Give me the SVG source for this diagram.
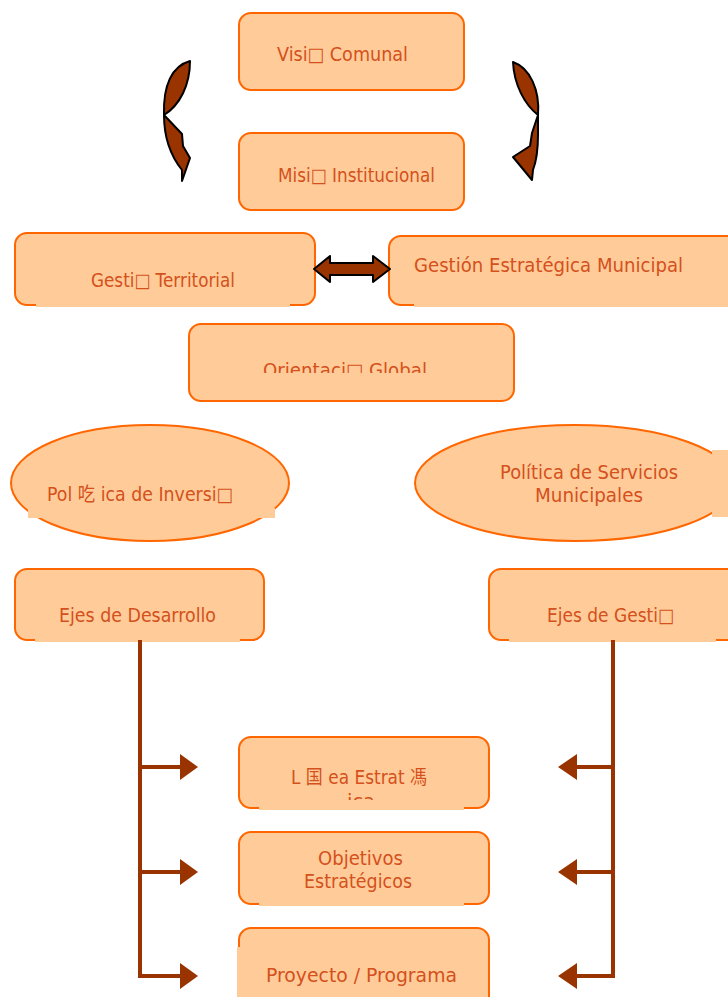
<svg xmlns="http://www.w3.org/2000/svg" width="728" height="997" viewBox="0 0 728 997">
<style>
.box{fill:#FFCC99;stroke:#FF6600;stroke-width:2}
.cov{fill:#FFCC99}
.t{font-family:"DejaVu Sans","Noto Sans CJK SC",sans-serif;font-size:19.5px;fill:#D4501C;text-anchor:middle}
.ln{stroke:#993300;stroke-width:4;fill:none}
.ah{fill:#993300}
.cu{fill:#993300;stroke:#000;stroke-width:2;stroke-linejoin:round}
</style>
<defs>
<clipPath id="cOri"><rect x="189" y="324" width="325" height="49"/></clipPath>
<clipPath id="cLin"><rect x="239" y="737" width="250" height="63"/></clipPath>
</defs>
<rect width="728" height="997" fill="#fff"/>
<g id="vision">
<rect class="box" x="239" y="13" width="225" height="77" rx="12"/>
<text class="t" x="342.5" y="61" textLength="131" lengthAdjust="spacingAndGlyphs">Visi□ Comunal</text>
</g>
<g id="mision">
<rect class="box" x="239" y="133" width="225" height="77" rx="12"/>
<text class="t" x="356.5" y="182" textLength="157" lengthAdjust="spacingAndGlyphs">Misi□ Institucional</text>
</g>
<g id="gestion-territorial">
<rect class="box" x="15" y="233" width="300" height="72" rx="12"/>
<rect class="cov" x="36" y="302" width="254" height="5"/>
<text class="t" x="163" y="287" textLength="144" lengthAdjust="spacingAndGlyphs">Gesti□ Territorial</text>
</g>
<g id="gestion-estrategica">
<rect class="box" x="389" y="236" width="360" height="69" rx="12"/>
<rect class="cov" x="414" y="302" width="314" height="5"/>
<text class="t" x="548.5" y="272" textLength="269" lengthAdjust="spacingAndGlyphs">Gestión Estratégica Municipal</text>
</g>
<g id="orientacion">
<rect class="box" x="189" y="324" width="325" height="77" rx="12"/>
<text class="t" x="345" y="377" clip-path="url(#cOri)" textLength="164" lengthAdjust="spacingAndGlyphs">Orientaci□ Global</text>
</g>
<g id="politica-inversion">
<ellipse class="box" cx="150" cy="483" rx="139" ry="58"/>
<rect class="cov" x="28" y="508" width="247" height="10"/>
<text class="t" x="140" y="501" textLength="186" lengthAdjust="spacingAndGlyphs">Pol 吃 ica de Inversi□</text>
</g>
<g id="politica-servicios">
<ellipse class="box" cx="575" cy="483" rx="160" ry="58"/>
<rect class="cov" x="712" y="450" width="16" height="67"/>
<text class="t" x="589" y="479" textLength="178" lengthAdjust="spacingAndGlyphs">Política de Servicios</text>
<text class="t" x="589" y="502" textLength="108" lengthAdjust="spacingAndGlyphs">Municipales</text>
</g>
<g id="ejes-desarrollo">
<rect class="box" x="15" y="569" width="249" height="71" rx="12"/>
<rect class="cov" x="35" y="637" width="205" height="5"/>
<text class="t" x="137.5" y="622" textLength="157" lengthAdjust="spacingAndGlyphs">Ejes de Desarrollo</text>
</g>
<g id="ejes-gestion">
<rect class="box" x="489" y="569" width="260" height="71" rx="12"/>
<rect class="cov" x="509" y="637" width="207" height="5"/>
<text class="t" x="610.5" y="622" textLength="127" lengthAdjust="spacingAndGlyphs">Ejes de Gesti□</text>
</g>
<g id="linea">
<rect class="box" x="239" y="737" width="250" height="71" rx="12"/>
<rect class="cov" x="259" y="805" width="205" height="5"/>
<g clip-path="url(#cLin)">
<text class="t" x="359" y="784" textLength="136" lengthAdjust="spacingAndGlyphs">L 国 ea Estrat 馮</text>
<text class="t" x="361" y="808" textLength="28" lengthAdjust="spacingAndGlyphs">ica</text>
</g>
</g>
<g id="objetivos">
<rect class="box" x="239" y="832" width="250" height="72" rx="12"/>
<rect class="cov" x="259" y="901" width="205" height="5"/>
<text class="t" x="360.5" y="865" textLength="85" lengthAdjust="spacingAndGlyphs">Objetivos</text>
<text class="t" x="358" y="888" textLength="108" lengthAdjust="spacingAndGlyphs">Estratégicos</text>
</g>
<g id="proyecto">
<rect class="box" x="239" y="928" width="250" height="90" rx="12"/>
<rect class="cov" x="237" y="947" width="6" height="50"/>
<text class="t" x="361.5" y="982" textLength="191" lengthAdjust="spacingAndGlyphs">Proyecto / Programa</text>
</g>
<g id="connectors">
<path class="cu" d="M190,61 C172,66 163,85 164,115 C164,135 170,155 182,170 L182,181 L190,158 L183,146 L182,134 L164,115 C180,105 190,85 190,61 Z"/>
<path class="cu" d="M513,62 C530,68 540,90 538,115 L538,135 C538,150 536,162 533,170 L532,180 L513,157 L530,146 L532,133 L538,115 C525,105 514,85 513,62 Z"/>
<path class="cu" d="M314,269 L330,256 L330,263 L373,263 L373,256 L390,269 L373,282 L373,275 L330,275 L330,282 Z"/>
<path class="ln" d="M140,640 V976 H180 M140,767 H180 M140,872 H180"/>
<path class="ah" d="M180,754 L198,767 L180,780 Z M180,859 L198,872 L180,885 Z M180,963 L198,976 L180,989 Z"/>
<path class="ln" d="M613,640 V976 H577 M613,767 H577 M613,872 H577"/>
<path class="ah" d="M577,754 L558,767 L577,780 Z M577,859 L558,872 L577,885 Z M577,963 L558,976 L577,989 Z"/>
</g>
</svg>
